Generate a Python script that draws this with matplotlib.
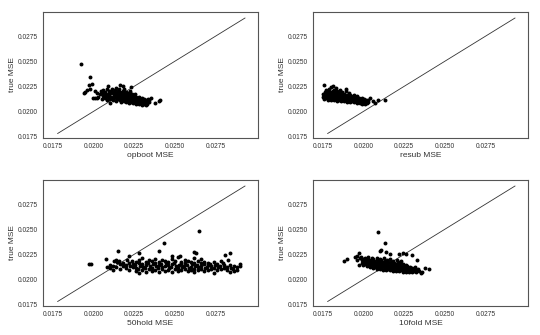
import matplotlib
matplotlib.use("Agg")
import matplotlib.pyplot as plt

plt.rcParams['font.family'] = ['Liberation Sans', 'DejaVu Sans']

# estimated (x, y) pairs, one list per panel
opboot_pts = [
    (0.0203, 0.0214), (0.0204, 0.0217), (0.02045, 0.0220), (0.0205, 0.0212), (0.02052, 0.0218),
    (0.0206, 0.0215), (0.02058, 0.0221), (0.0207, 0.0213), (0.02068, 0.0217), (0.02073, 0.0219),
    (0.0208, 0.0211), (0.02078, 0.0215), (0.02083, 0.0222), (0.0209, 0.0214), (0.02087, 0.0217), (0.02093, 0.0220),
    (0.0210, 0.0212), (0.02098, 0.0216), (0.02104, 0.0218), (0.0211, 0.0214), (0.02107, 0.0220), (0.02113, 0.0222),
    (0.0212, 0.0211), (0.02118, 0.0213), (0.02123, 0.0216), (0.0212, 0.0218), (0.0213, 0.0215), (0.02127, 0.0219), (0.02133, 0.0221),
    (0.0214, 0.0210), (0.02138, 0.0213), (0.02143, 0.0216), (0.0214, 0.0218), (0.02137, 0.0223),
    (0.0215, 0.0212), (0.02148, 0.0215), (0.02153, 0.0217), (0.0215, 0.0220),
    (0.0216, 0.0211), (0.02158, 0.0214), (0.02163, 0.0216), (0.0216, 0.0219), (0.02157, 0.0222),
    (0.0217, 0.0209), (0.02168, 0.0213), (0.02173, 0.0215), (0.0217, 0.0218),
    (0.0218, 0.0211), (0.02178, 0.0214), (0.02183, 0.0216), (0.0218, 0.0220),
    (0.0219, 0.0210), (0.02188, 0.0213), (0.02193, 0.0215), (0.0219, 0.0217), (0.02187, 0.0222),
    (0.0220, 0.0209), (0.02198, 0.0212), (0.02203, 0.0214), (0.0220, 0.0216), (0.02197, 0.0219),
    (0.0221, 0.0211), (0.02208, 0.0213), (0.02213, 0.0215), (0.0221, 0.0218),
    (0.0222, 0.0208), (0.02218, 0.0210), (0.02223, 0.0212), (0.0222, 0.0214), (0.02217, 0.0216), (0.02222, 0.0220),
    (0.0223, 0.0209), (0.02228, 0.0211), (0.02233, 0.0213), (0.0223, 0.0215), (0.02227, 0.0218),
    (0.0224, 0.0208), (0.02238, 0.0210), (0.02243, 0.0212), (0.0224, 0.0214), (0.02237, 0.0217),
    (0.0225, 0.0209), (0.02248, 0.0211), (0.02253, 0.0213), (0.0225, 0.0215),
    (0.0226, 0.0207), (0.02258, 0.0210), (0.02263, 0.0212), (0.0226, 0.0214), (0.02257, 0.0217),
    (0.0227, 0.0208), (0.02268, 0.0211), (0.02273, 0.0213),
    (0.0228, 0.0207), (0.02278, 0.0209), (0.02283, 0.0211), (0.0228, 0.0214),
    (0.0229, 0.0208), (0.02288, 0.0210), (0.02293, 0.0212),
    (0.0230, 0.0206), (0.02298, 0.0209), (0.02303, 0.0211), (0.0230, 0.0213),
    (0.0231, 0.0207), (0.02308, 0.0210), (0.02313, 0.0212),
    (0.0232, 0.0206), (0.02318, 0.0208), (0.02323, 0.0211),
    (0.0233, 0.0207), (0.02328, 0.0210), (0.02333, 0.0212),
    (0.0234, 0.0209), (0.02343, 0.0211),
    (0.01925, 0.0247), (0.0198, 0.0234), (0.0197, 0.0226), (0.0199, 0.0227), (0.0195, 0.0219),
    (0.0194, 0.0218), (0.0196, 0.0221), (0.0198, 0.0222), (0.0200, 0.0213), (0.0201, 0.0213),
    (0.0202, 0.0213), (0.0201, 0.0220), (0.0202, 0.0218), (0.0210, 0.0208), (0.0209, 0.0225),
    (0.0216, 0.0226), (0.0218, 0.0225), (0.0223, 0.0224), (0.0238, 0.0208), (0.0240, 0.0210),
    (0.0241, 0.0211), (0.0235, 0.0213),
]

resub_pts = [
    (0.0175, 0.0214), (0.01752, 0.0217), (0.0176, 0.0212), (0.01758, 0.0215), (0.01763, 0.0219),
    (0.0177, 0.0213), (0.01768, 0.0216), (0.01773, 0.0218), (0.0177, 0.0221),
    (0.0178, 0.0211), (0.01778, 0.0214), (0.01783, 0.0217), (0.0178, 0.0220),
    (0.0179, 0.0212), (0.01788, 0.0215), (0.01793, 0.0218), (0.0179, 0.0222),
    (0.0180, 0.0211), (0.01798, 0.0213), (0.01803, 0.0216), (0.0180, 0.0219),
    (0.0181, 0.0212), (0.01808, 0.0214), (0.01813, 0.0217), (0.0181, 0.0220),
    (0.0182, 0.0211), (0.01818, 0.0213), (0.01823, 0.0215), (0.0182, 0.0218), (0.01817, 0.0221),
    (0.0183, 0.0212), (0.01828, 0.0214), (0.01833, 0.0216), (0.0183, 0.0219),
    (0.0184, 0.0210), (0.01838, 0.0213), (0.01843, 0.0215), (0.0184, 0.0217), (0.01837, 0.0220),
    (0.0185, 0.0211), (0.01848, 0.0214), (0.01853, 0.0216), (0.0185, 0.0218),
    (0.0186, 0.0210), (0.01858, 0.0212), (0.01863, 0.0215), (0.0186, 0.0217), (0.01857, 0.0221),
    (0.0187, 0.0211), (0.01868, 0.0213), (0.01873, 0.0216), (0.0187, 0.0219),
    (0.0188, 0.0210), (0.01878, 0.0212), (0.01883, 0.0214), (0.0188, 0.0217),
    (0.0189, 0.0211), (0.01888, 0.0213), (0.01893, 0.0215), (0.0189, 0.0220),
    (0.0190, 0.0209), (0.01898, 0.0212), (0.01903, 0.0214), (0.0190, 0.0216),
    (0.0191, 0.0210), (0.01908, 0.0213), (0.01913, 0.0215), (0.0191, 0.0218),
    (0.0192, 0.0209), (0.01918, 0.0211), (0.01923, 0.0214), (0.0192, 0.0216),
    (0.0193, 0.0210), (0.01928, 0.0212), (0.01933, 0.0215),
    (0.0194, 0.0209), (0.01938, 0.0211), (0.01943, 0.0213), (0.0194, 0.0216),
    (0.0195, 0.0210), (0.01948, 0.0212), (0.01953, 0.0214),
    (0.0196, 0.0208), (0.01958, 0.0211), (0.01963, 0.0213), (0.0196, 0.0215),
    (0.0197, 0.0209), (0.01968, 0.0211), (0.01973, 0.0213),
    (0.0198, 0.0208), (0.01978, 0.0210), (0.01983, 0.0212),
    (0.0199, 0.0207), (0.01988, 0.0209), (0.01993, 0.0211), (0.0199, 0.0213),
    (0.0200, 0.0208), (0.01998, 0.0210), (0.02003, 0.0212),
    (0.0201, 0.0207), (0.02008, 0.0209), (0.02013, 0.0211),
    (0.0202, 0.0208), (0.02018, 0.0210),
    (0.0203, 0.0209), (0.02028, 0.0211),
    (0.0176, 0.0226), (0.0180, 0.0224), (0.0181, 0.0225), (0.0183, 0.0223), (0.0189, 0.0222),
    (0.0204, 0.0213), (0.0206, 0.0210), (0.0207, 0.0208), (0.0209, 0.0211), (0.0213, 0.0211),
]

hold50_pts = [
    (0.02081, 0.0212), (0.02079, 0.0220),
    (0.0210, 0.0211), (0.02103, 0.0214),
    (0.0212, 0.0209), (0.02118, 0.0213), (0.02123, 0.0218),
    (0.0214, 0.0212), (0.02143, 0.0217), (0.02137, 0.0219),
    (0.0216, 0.0210), (0.02163, 0.0215), (0.02157, 0.0218),
    (0.0218, 0.0213), (0.02184, 0.0216),
    (0.0220, 0.0211), (0.02197, 0.0214), (0.02204, 0.0219),
    (0.0222, 0.0209), (0.02223, 0.0213), (0.02216, 0.0216),
    (0.0224, 0.0212), (0.02244, 0.0215), (0.02237, 0.0218),
    (0.0226, 0.0208), (0.02263, 0.0211), (0.02256, 0.0214), (0.02262, 0.0217),
    (0.0228, 0.0206), (0.02276, 0.0210), (0.02284, 0.0213), (0.0228, 0.0216), (0.02277, 0.0219),
    (0.0230, 0.0209), (0.02304, 0.0212), (0.02297, 0.0215), (0.0230, 0.0221),
    (0.0232, 0.0207), (0.02316, 0.0211), (0.02323, 0.0214), (0.0232, 0.0217),
    (0.0234, 0.0210), (0.02344, 0.0213), (0.02337, 0.0216), (0.0234, 0.0219),
    (0.0236, 0.0208), (0.02357, 0.0211), (0.02363, 0.0215), (0.0236, 0.0218),
    (0.0238, 0.0209), (0.02384, 0.0213), (0.02377, 0.0216), (0.0238, 0.0220),
    (0.0240, 0.0207), (0.02396, 0.0211), (0.02404, 0.0214), (0.0240, 0.0217),
    (0.0242, 0.0210), (0.02423, 0.0212), (0.02417, 0.0215), (0.0242, 0.0219),
    (0.0244, 0.0208), (0.02436, 0.0213), (0.02444, 0.0216), (0.0244, 0.0218),
    (0.0246, 0.0209), (0.02464, 0.0211), (0.02457, 0.0214), (0.0246, 0.0217),
    (0.0248, 0.0207), (0.02477, 0.0212), (0.02483, 0.0215), (0.0248, 0.0220),
    (0.0250, 0.0210), (0.02504, 0.0213), (0.02496, 0.0216), (0.0250, 0.0218),
    (0.0252, 0.0208), (0.02516, 0.0211), (0.02524, 0.0214), (0.0252, 0.0222),
    (0.0254, 0.0209), (0.02543, 0.0212), (0.02537, 0.0215), (0.0254, 0.0217),
    (0.0256, 0.0210), (0.02557, 0.0213), (0.02563, 0.0216), (0.0256, 0.0219),
    (0.0258, 0.0208), (0.02584, 0.0211), (0.02577, 0.0214), (0.0258, 0.0218),
    (0.0260, 0.0209), (0.02597, 0.0212), (0.02603, 0.0215), (0.0260, 0.0217),
    (0.0262, 0.0207), (0.02616, 0.0210), (0.02624, 0.0213), (0.0262, 0.0216), (0.02617, 0.0221),
    (0.0264, 0.0209), (0.02644, 0.0212), (0.02637, 0.0214), (0.0264, 0.0218),
    (0.0266, 0.0210), (0.02657, 0.0213), (0.02663, 0.0216), (0.0266, 0.0220),
    (0.0268, 0.0208), (0.02684, 0.0211), (0.02677, 0.0215), (0.0268, 0.0217),
    (0.0270, 0.0209), (0.02697, 0.0212), (0.02703, 0.0214), (0.0270, 0.0216),
    (0.0272, 0.0210), (0.02724, 0.0213), (0.02717, 0.0215),
    (0.0274, 0.0206), (0.02737, 0.0211), (0.02743, 0.0214), (0.0274, 0.0217),
    (0.0276, 0.0209), (0.02764, 0.0212), (0.02757, 0.0215),
    (0.0278, 0.0210), (0.02777, 0.0213), (0.02783, 0.0218),
    (0.0280, 0.0211), (0.02804, 0.0214), (0.02797, 0.0216),
    (0.0282, 0.0209), (0.02817, 0.0212), (0.02823, 0.0219),
    (0.0284, 0.0207), (0.02844, 0.0211), (0.02837, 0.0214),
    (0.0286, 0.0208), (0.02857, 0.0210), (0.02863, 0.0213),
    (0.0288, 0.0209), (0.02884, 0.0212),
    (0.0290, 0.0213), (0.02897, 0.0215),
    (0.01975, 0.0215), (0.01985, 0.0215), (0.0215, 0.0228), (0.0222, 0.0223), (0.0228, 0.0226),
    (0.0240, 0.0228), (0.0243, 0.0236), (0.0265, 0.0248), (0.0262, 0.0227), (0.0263, 0.0226),
    (0.0281, 0.0224), (0.0284, 0.0226), (0.0248, 0.0223), (0.0253, 0.0223),
]

fold10_pts = [
    (0.0199, 0.0216), (0.01993, 0.0219), (0.01987, 0.0222),
    (0.0200, 0.0214), (0.02003, 0.0217), (0.01997, 0.0220),
    (0.0201, 0.0215), (0.02013, 0.0218), (0.02007, 0.0221),
    (0.0202, 0.0213), (0.02023, 0.0216), (0.02017, 0.0219),
    (0.0203, 0.0214), (0.02033, 0.0217), (0.02027, 0.0220), (0.0203, 0.0222),
    (0.0204, 0.0212), (0.02043, 0.0215), (0.02037, 0.0218),
    (0.0205, 0.0213), (0.02053, 0.0216), (0.02047, 0.0219), (0.0205, 0.0221),
    (0.0206, 0.0211), (0.02063, 0.0214), (0.02057, 0.0217), (0.0206, 0.0220),
    (0.0207, 0.0212), (0.02073, 0.0215), (0.02067, 0.0218),
    (0.0208, 0.0210), (0.02083, 0.0213), (0.02077, 0.0216), (0.0208, 0.0219), (0.02083, 0.0221),
    (0.0209, 0.0211), (0.02093, 0.0214), (0.02087, 0.0217),
    (0.0210, 0.0210), (0.02103, 0.0212), (0.02097, 0.0215), (0.0210, 0.0218), (0.02103, 0.0220),
    (0.0211, 0.0211), (0.02113, 0.0213), (0.02107, 0.0216), (0.0211, 0.0219),
    (0.0212, 0.0209), (0.02123, 0.0212), (0.02117, 0.0214), (0.0212, 0.0217), (0.02123, 0.0221),
    (0.0213, 0.0210), (0.02133, 0.0213), (0.02127, 0.0215), (0.0213, 0.0218),
    (0.0214, 0.0209), (0.02143, 0.0211), (0.02137, 0.0214), (0.0214, 0.0216), (0.02143, 0.0219),
    (0.0215, 0.0210), (0.02153, 0.0212), (0.02147, 0.0215), (0.0215, 0.0217),
    (0.0216, 0.0209), (0.02163, 0.0211), (0.02157, 0.0213), (0.0216, 0.0216), (0.02163, 0.0220),
    (0.0217, 0.0210), (0.02173, 0.0212), (0.02167, 0.0214), (0.0217, 0.0217),
    (0.0218, 0.0208), (0.02183, 0.0211), (0.02177, 0.0213), (0.0218, 0.0215), (0.02183, 0.0218),
    (0.0219, 0.0209), (0.02193, 0.0212), (0.02187, 0.0214), (0.0219, 0.0216),
    (0.0220, 0.0208), (0.02203, 0.0210), (0.02197, 0.0213), (0.0220, 0.0215), (0.02203, 0.0219),
    (0.0221, 0.0209), (0.02213, 0.0211), (0.02207, 0.0214), (0.0221, 0.0217),
    (0.0222, 0.0208), (0.02223, 0.0210), (0.02217, 0.0212), (0.0222, 0.0214), (0.02223, 0.0216),
    (0.0223, 0.0209), (0.02233, 0.0211), (0.02227, 0.0213), (0.0223, 0.0218),
    (0.0224, 0.0207), (0.02243, 0.0210), (0.02237, 0.0212), (0.0224, 0.0215),
    (0.0225, 0.0208), (0.02253, 0.0211), (0.02247, 0.0213),
    (0.0226, 0.0207), (0.02263, 0.0209), (0.02257, 0.0212), (0.0226, 0.0214),
    (0.0227, 0.0208), (0.02273, 0.0210), (0.02267, 0.0213),
    (0.0228, 0.0207), (0.02283, 0.0209), (0.02277, 0.0211),
    (0.0229, 0.0208), (0.02293, 0.0210), (0.02287, 0.0212),
    (0.0230, 0.0207), (0.02303, 0.0209), (0.02297, 0.0211),
    (0.0231, 0.0208), (0.02313, 0.0210),
    (0.0232, 0.0207), (0.02323, 0.0209), (0.02317, 0.0212),
    (0.0234, 0.0208), (0.02337, 0.0210),
    (0.0188, 0.0218), (0.0190, 0.0220), (0.0195, 0.0222), (0.0197, 0.0226), (0.0196, 0.0223),
    (0.0197, 0.0214), (0.0196, 0.0219), (0.0198, 0.0221), (0.0209, 0.0247), (0.0213, 0.0236),
    (0.0210, 0.0228), (0.0211, 0.0229), (0.0214, 0.0227), (0.0216, 0.0225), (0.0222, 0.0225),
    (0.0224, 0.0226), (0.0226, 0.0225), (0.0230, 0.0224), (0.0233, 0.0219), (0.0236, 0.0207),
    (0.0238, 0.0211), (0.0240, 0.0210), (0.0235, 0.0206),
]

panel_labels = ["opboot MSE", "resub MSE", "50hold MSE", "10fold MSE"]
panel_data = [opboot_pts, resub_pts, hold50_pts, fold10_pts]
tick_vals = [0.0175, 0.0200, 0.0225, 0.0250, 0.0275]
tick_text = ["0.0175", "0.0200", "0.0225", "0.0250", "0.0275"]
diag = [0.0178, 0.0293]

W, H = 540, 335
fig = plt.figure(figsize=(W / 100, H / 100), dpi=100)

# axes boxes in pixels: left, top, right, bottom
boxes = [(43, 12, 258, 138), (313, 12, 528, 138),
         (43, 180, 258, 306), (313, 180, 528, 306)]

for box, pts, lab in zip(boxes, panel_data, panel_labels):
    l, t, r, b = box
    ax = fig.add_axes([l / W, 1 - b / H, (r - l) / W, (b - t) / H])
    xs = [p[0] for p in pts]
    ys = [p[1] for p in pts]
    ax.plot(diag, diag, color="#333333", lw=0.6, zorder=1)
    ax.scatter(xs, ys, s=8, color="black", linewidths=0, zorder=2)
    ax.set_xlim(0.0169, 0.0301)
    ax.set_ylim(0.01735, 0.0299)
    ax.set_xticks(tick_vals)
    ax.set_xticklabels(tick_text)
    ax.set_yticks(tick_vals)
    ax.set_yticklabels(tick_text)
    ax.tick_params(length=0, labelsize=4.8, pad=3.5, colors="#333333")
    ax.set_xlabel(lab, fontsize=6, labelpad=1.5, color="#333333")
    ax.set_ylabel("true MSE", fontsize=6, labelpad=1.5, color="#333333")
    for sp in ax.spines.values():
        sp.set_color("#555555")
        sp.set_linewidth(0.8)

fig.savefig("out.png", dpi=100)
